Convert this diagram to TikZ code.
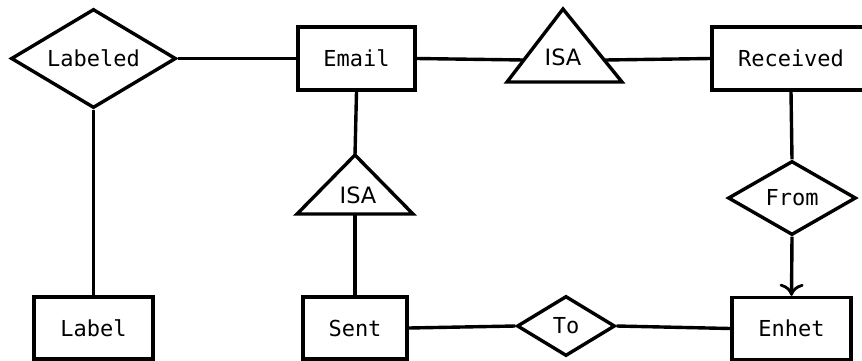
\documentclass[tikz,border=0pt]{standalone}
\usepackage{fontspec}
\setmonofont{DejaVu Sans Mono}
\newfontfamily\isafont{DejaVu Sans}
\usetikzlibrary{shapes.geometric,arrows.meta}
\tikzset{
  every node/.style={font=\ttfamily\fontsize{22}{26}\selectfont},
  entity/.style={draw, rectangle, inner sep=0pt, minimum height=62pt},
  rel/.style={draw, diamond, inner sep=0pt, aspect=1.7},
  conn/.style={draw},
  isatext/.style={font=\isafont\fontsize{22.5}{26}\selectfont, inner sep=0pt},
}
\begin{document}
\begin{tikzpicture}[x=1pt,y=-1pt,line width=3.4pt,line join=miter]
\useasboundingbox (0,0) rectangle (862,360);
\clip (0,0) rectangle (862,360);
% entities
\node[entity, minimum width=117pt, minimum height=63pt] (email) at (356.5,58.5) {Email};
\node[entity, minimum width=158pt, minimum height=63pt] (received) at (791,58.5) {Received};
\node[entity, minimum width=119pt] (label) at (93.5,328) {Label};
\node[entity, minimum width=104pt] (sent) at (355,328) {Sent};
\node[entity, minimum width=119pt] (enhet) at (791.5,328.5) {Enhet};
% relationships
\node[rel, minimum width=165pt, minimum height=99pt] (labeled) at (93.5,58.5) {Labeled};
\node[rel, minimum width=128pt, minimum height=74pt] (from) at (792,198) {From};
\node[rel, minimum width=98pt, minimum height=60pt] (to) at (566,326) {To};
% ISA triangles
\draw (563,9) coordinate (isaAtop) -- (622,82) -- (507,82) -- cycle;
\node[isatext] (isaA) at (563,57) {ISA};
\coordinate (isaAw) at (524,60);
\coordinate (isaAe) at (605,60);
\draw (355,155) coordinate (isaBtop) -- (413,214) -- (297,214) -- cycle;
\node[isatext] (isaB) at (358,195) {ISA};
\coordinate (isaBbot) at (355,214);
% connectors
\draw[conn] (labeled.east) -- (email.west);
\draw[conn] (labeled.south) -- (label.north);
\draw[conn] (email.east) -- (isaAw);
\draw[conn] (isaAe) -- (received.west);
\draw[conn] (email.south) -- (isaBtop);
\draw[conn] (isaBbot) -- (sent.north);
\draw[conn] (received.south) -- (from.north);
\draw[conn, -{To[width=24pt,length=12pt,line width=2.8pt]}] (from.south) -- (enhet.north);
\draw[conn] (sent.east) -- (to.west);
\draw[conn] (to.east) -- (enhet.west);
\end{tikzpicture}
\end{document}
